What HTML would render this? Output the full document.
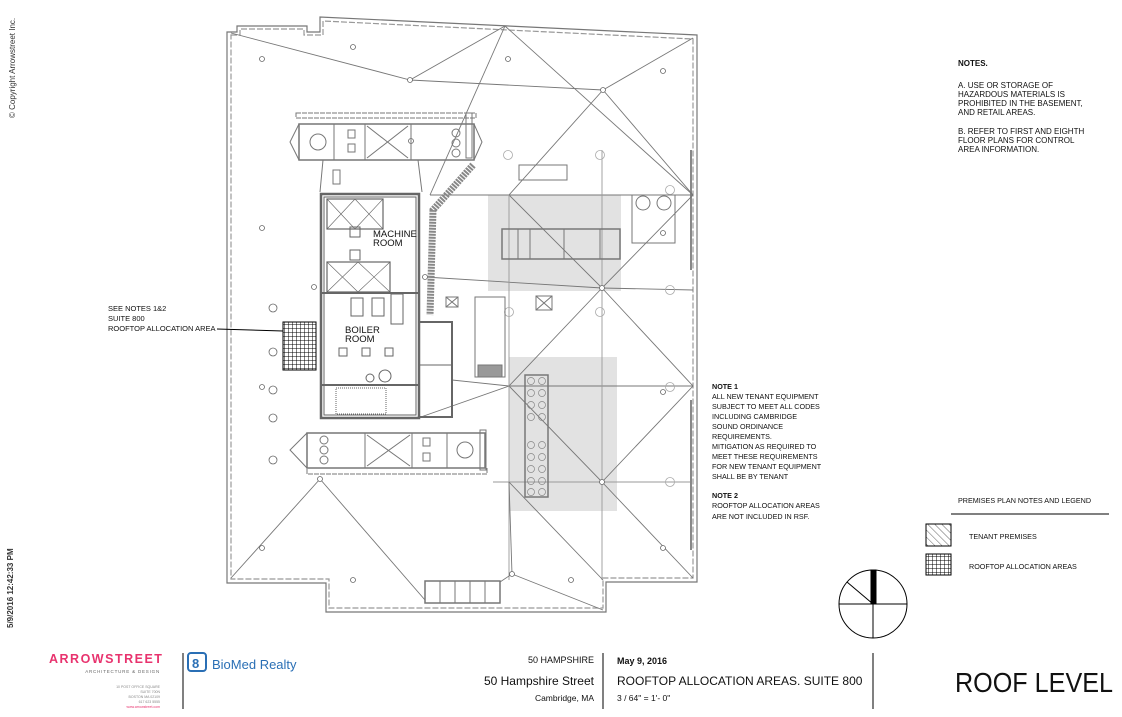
<!DOCTYPE html>
<html><head><meta charset="utf-8"><style>
html,body{margin:0;padding:0;background:#fff;}
svg{display:block}
text{font-family:"Liberation Sans",Arial,sans-serif;}
</style></head><body>
<svg width="1122" height="717" viewBox="0 0 1122 717" xmlns="http://www.w3.org/2000/svg">
<defs>
<pattern id="grid" width="4" height="4" patternUnits="userSpaceOnUse"><rect width="4" height="4" fill="#fff"/><path d="M0 0H4M0 0V4" stroke="#000" stroke-width="1"/></pattern>
<pattern id="hatch" width="5" height="5" patternUnits="userSpaceOnUse" patternTransform="rotate(-45)"><path d="M0 0V5" stroke="#666" stroke-width="1"/></pattern>
</defs>
<!-- side texts -->
<text transform="translate(15,118) rotate(-90)" font-size="8" fill="#333">© Copyright Arrowstreet Inc.</text>
<text transform="translate(13,628) rotate(-90)" font-size="8" font-weight="bold" fill="#333">5/9/2016 12:42:33 PM</text>

<!-- building outline -->
<g fill="none" stroke="#777" stroke-width="1.2">
<path d="M227,32 H237 V26 H307 V32 H320 V17 L697,35 V582 H606 V612 H326 V583 H227 Z"/>
<path d="M231,35 H240 V29 H304 V35 H323 V21 L693,39 V578 H603 V608 H329 V579 H231 Z" stroke="#999" stroke-dasharray="6,2"/>
</g>
<rect x="690" y="150" width="2" height="120" fill="#888"/>
<rect x="690" y="400" width="2" height="150" fill="#888"/>

<!-- gray bands -->
<rect x="488" y="195" width="133" height="96" fill="#e2e2e2"/>
<rect x="509" y="357" width="108" height="154" fill="#e2e2e2"/>

<!-- roof slope lines -->
<g stroke="#777" stroke-width="0.9" fill="none">
<path d="M231,33 L410,80 L505,26"/>
<path d="M410,80 L603,90"/>
<path d="M505,26 L693,195"/>
<path d="M505,26 L430,195"/>
<path d="M603,90 L693,38"/>
<path d="M603,90 L509,195 L602,288 L693,195 L603,90"/>
<path d="M430,195 H693"/>
<path d="M425,277 L602,288"/>
<path d="M602,288 L509,386 L602,482 L693,386 Z"/>
<path d="M452,380 L509,386 H693"/>
<path d="M509,195 V580" stroke="#999"/>
<path d="M602,150 V580" stroke="#999"/>
<path d="M493,482 H690" stroke="#999"/>
<path d="M602,482 L693,578"/>
<path d="M509,482 L603,580"/>
<path d="M509,482 L512,574 L603,610"/>
<path d="M512,574 L500,582"/>
<path d="M231,578 L320,479 L425,600"/>
<path d="M418,418 L509,386"/>
<path d="M602,288 L693,290"/>
</g>
<!-- drain symbols -->
<g fill="#fff" stroke="#666" stroke-width="0.8">
<circle cx="410" cy="80" r="2.5"/><circle cx="603" cy="90" r="2.5"/><circle cx="602" cy="288" r="2.5"/>
<circle cx="602" cy="482" r="2.5"/><circle cx="512" cy="574" r="2.5"/><circle cx="320" cy="479" r="2.5"/>
<circle cx="425" cy="277" r="2.5"/><circle cx="411" cy="141" r="2.5"/><circle cx="314" cy="287" r="2.5"/>
<circle cx="262" cy="59" r="2.5"/><circle cx="353" cy="47" r="2.5"/><circle cx="508" cy="59" r="2.5"/><circle cx="663" cy="71" r="2.5"/>
<circle cx="262" cy="228" r="2.5"/><circle cx="262" cy="387" r="2.5"/><circle cx="262" cy="548" r="2.5"/><circle cx="353" cy="580" r="2.5"/>
<circle cx="571" cy="580" r="2.5"/><circle cx="663" cy="548" r="2.5"/><circle cx="663" cy="233" r="2.5"/><circle cx="663" cy="392" r="2.5"/>
<circle cx="273" cy="308" r="4"/><circle cx="273" cy="352" r="4"/><circle cx="273" cy="390" r="4"/><circle cx="273" cy="418" r="4"/><circle cx="273" cy="460" r="4"/>
</g>
<g fill="none" stroke="#aaa" stroke-width="0.8">
<circle cx="508" cy="155" r="4.5"/><circle cx="600" cy="155" r="4.5"/><circle cx="670" cy="290" r="4.5"/><circle cx="600" cy="312" r="4.5"/>
<circle cx="509" cy="312" r="4.5"/><circle cx="670" cy="387" r="4.5"/><circle cx="670" cy="482" r="4.5"/><circle cx="670" cy="190" r="4.5"/>
</g>

<!-- top equipment -->
<g fill="none" stroke="#777" stroke-width="1">
<rect x="296" y="113" width="180" height="5" stroke-dasharray="5,1"/>
<rect x="466" y="113" width="6" height="45"/>
<rect x="299" y="124" width="175" height="36" stroke-width="1.5"/>
<path d="M299,124 L290,142 L299,160"/>
<path d="M474,124 L482,142 L474,160"/>
<line x1="334" y1="124" x2="334" y2="160"/><line x1="365" y1="124" x2="365" y2="160"/><line x1="411" y1="124" x2="411" y2="160"/>
<path d="M367,126 L408,158 M408,126 L367,158"/>
<circle cx="318" cy="142" r="8"/>
<circle cx="456" cy="133" r="4"/><circle cx="456" cy="143" r="4"/><circle cx="456" cy="153" r="4"/>
<rect x="348" y="130" width="7" height="8"/><rect x="348" y="144" width="7" height="8"/>
<path d="M323,160 L320,192 M418,160 L422,192"/>
<rect x="333" y="170" width="7" height="14"/>
</g>
<!-- stair diagonal -->
<path d="M473,165 L433,210 L430,315" fill="none" stroke="#888" stroke-width="7" stroke-dasharray="2,1"/>

<!-- core -->
<g fill="none" stroke="#666">
<rect x="321" y="194" width="98" height="224" stroke-width="2.5"/>
<rect x="324" y="197" width="92" height="218" stroke-width="1"/>
<line x1="322" y1="293" x2="418" y2="293" stroke-width="2"/>
<line x1="322" y1="385" x2="418" y2="385" stroke-width="2"/>
<rect x="327" y="199" width="56" height="30" stroke-width="1.2"/>
<path d="M327,199 L355,229 M355,199 L327,229 M355,199 L383,229 M383,199 L355,229" stroke-width="0.6"/>
<rect x="327" y="262" width="63" height="30" stroke-width="1.2"/>
<path d="M327,262 L358,292 M358,262 L327,292 M358,262 L390,292 M390,262 L358,292" stroke-width="0.6"/>
<rect x="350" y="227" width="10" height="10"/><rect x="350" y="250" width="10" height="10"/>
<rect x="351" y="298" width="12" height="18"/><rect x="372" y="298" width="12" height="18"/>
<rect x="339" y="348" width="8" height="8"/><rect x="362" y="348" width="8" height="8"/><rect x="385" y="348" width="8" height="8"/>
<circle cx="370" cy="378" r="4"/><circle cx="385" cy="376" r="6"/>
<rect x="391" y="294" width="12" height="30"/>
<rect x="419" y="322" width="33" height="95" stroke-width="2"/>
<line x1="419" y1="365" x2="452" y2="365"/>
<rect x="336" y="388" width="50" height="26" stroke-dasharray="1,1"/>
</g>
<text x="373" y="237" font-size="9.5" fill="#111">MACHINE</text>
<text x="373" y="246" font-size="9.5" fill="#111">ROOM</text>
<text x="345" y="333" font-size="9.5" fill="#111">BOILER</text>
<text x="345" y="342" font-size="9.5" fill="#111">ROOM</text>

<!-- bottom equipment -->
<g fill="none" stroke="#777" stroke-width="1">
<rect x="307" y="433" width="178" height="35" stroke-width="1.5"/>
<rect x="307" y="468" width="180" height="6" stroke-dasharray="5,1"/>
<rect x="480" y="430" width="6" height="40"/>
<path d="M307,433 L290,450 L307,468"/>
<line x1="365" y1="433" x2="365" y2="468"/><line x1="412" y1="433" x2="412" y2="468"/><line x1="447" y1="433" x2="447" y2="468"/>
<path d="M367,435 L410,466 M410,435 L367,466"/>
<circle cx="324" cy="440" r="4"/><circle cx="324" cy="450" r="4"/><circle cx="324" cy="460" r="4"/>
<circle cx="465" cy="450" r="8"/>
<rect x="423" y="438" width="7" height="8"/><rect x="423" y="453" width="7" height="8"/>
</g>

<!-- right equipment -->
<g fill="none" stroke="#777" stroke-width="1">
<rect x="502" y="229" width="118" height="30" stroke-width="1.5"/>
<line x1="518" y1="229" x2="518" y2="259"/><line x1="530" y1="229" x2="530" y2="259"/><line x1="564" y1="229" x2="564" y2="259"/><line x1="600" y1="229" x2="600" y2="259"/>
<rect x="519" y="165" width="48" height="15"/>
<rect x="632" y="195" width="43" height="48"/>
<circle cx="643" cy="203" r="7"/><circle cx="664" cy="203" r="7"/>
<rect x="525" y="375" width="23" height="122" stroke-width="1.5"/>
<rect x="475" y="297" width="30" height="80"/>
<rect x="478" y="365" width="24" height="12" fill="#999"/>
<rect x="446" y="297" width="12" height="10"/><path d="M446,297 L458,307 M458,297 L446,307"/>
<rect x="536" y="296" width="16" height="14"/><path d="M536,296 L552,310 M552,296 L536,310"/>
<rect x="425" y="581" width="75" height="22" stroke-width="1.5"/>
<line x1="440" y1="581" x2="440" y2="603"/><line x1="455" y1="581" x2="455" y2="603"/><line x1="470" y1="581" x2="470" y2="603"/><line x1="485" y1="581" x2="485" y2="603"/>
</g>
<g fill="none" stroke="#888" stroke-width="0.7">
<circle cx="531" cy="381" r="3.5"/><circle cx="542" cy="381" r="3.5"/><circle cx="531" cy="393" r="3.5"/><circle cx="542" cy="393" r="3.5"/>
<circle cx="531" cy="405" r="3.5"/><circle cx="542" cy="405" r="3.5"/><circle cx="531" cy="417" r="3.5"/><circle cx="542" cy="417" r="3.5"/>
<circle cx="531" cy="445" r="3.5"/><circle cx="542" cy="445" r="3.5"/><circle cx="531" cy="457" r="3.5"/><circle cx="542" cy="457" r="3.5"/>
<circle cx="531" cy="469" r="3.5"/><circle cx="542" cy="469" r="3.5"/><circle cx="531" cy="481" r="3.5"/><circle cx="542" cy="481" r="3.5"/>
<circle cx="531" cy="492" r="3.5"/><circle cx="542" cy="492" r="3.5"/>
</g>

<!-- rooftop allocation area -->
<rect x="283" y="322" width="33" height="48" fill="url(#grid)" stroke="#000" stroke-width="1"/>
<line x1="217" y1="329" x2="283" y2="331" stroke="#000" stroke-width="1"/>
<text x="108" y="311" font-size="7.5" fill="#111">SEE NOTES  1&amp;2</text>
<text x="108" y="321" font-size="7.5" fill="#111">SUITE 800</text>
<text x="108" y="331" font-size="7.5" fill="#111">ROOFTOP ALLOCATION AREA</text>

<!-- notes -->
<g font-size="8" fill="#111">
<text x="958" y="66" font-weight="bold">NOTES.</text>
<text x="958" y="88">A. USE OR STORAGE OF</text>
<text x="958" y="97">HAZARDOUS MATERIALS IS</text>
<text x="958" y="106">PROHIBITED IN THE BASEMENT,</text>
<text x="958" y="115">AND RETAIL AREAS.</text>
<text x="958" y="134">B. REFER TO FIRST AND EIGHTH</text>
<text x="958" y="143">FLOOR PLANS FOR CONTROL</text>
<text x="958" y="152">AREA INFORMATION.</text>
</g>
<g font-size="7.2" fill="#111">
<text x="712" y="389" font-weight="bold">NOTE 1</text>
<text x="712" y="399">ALL NEW TENANT EQUIPMENT</text>
<text x="712" y="409">SUBJECT TO MEET ALL CODES</text>
<text x="712" y="419">INCLUDING CAMBRIDGE</text>
<text x="712" y="429">SOUND  ORDINANCE</text>
<text x="712" y="439">REQUIREMENTS.</text>
<text x="712" y="449">MITIGATION AS REQUIRED TO</text>
<text x="712" y="459">MEET THESE REQUIREMENTS</text>
<text x="712" y="469">FOR NEW TENANT EQUIPMENT</text>
<text x="712" y="479">SHALL BE BY TENANT</text>
<text x="712" y="498" font-weight="bold">NOTE 2</text>
<text x="712" y="508">ROOFTOP ALLOCATION AREAS</text>
<text x="712" y="519">ARE NOT INCLUDED IN RSF.</text>
<text x="958" y="503">PREMISES PLAN NOTES AND LEGEND</text>
<text x="969" y="539">TENANT PREMISES</text>
<text x="969" y="569">ROOFTOP ALLOCATION AREAS</text>
</g>
<line x1="951" y1="514" x2="1109" y2="514" stroke="#000" stroke-width="1"/>
<rect x="926" y="524" width="25" height="22" fill="url(#hatch)" stroke="#000"/>
<rect x="926" y="554" width="25" height="21" fill="url(#grid)" stroke="#000"/>

<!-- north arrow -->
<g stroke="#000" fill="none" stroke-width="1">
<circle cx="873" cy="604" r="34"/>
<line x1="839" y1="604" x2="907" y2="604"/>
<line x1="873" y1="604" x2="873" y2="638"/>
<line x1="873" y1="604" x2="847" y2="582"/>
<rect x="871" y="570" width="5" height="34" fill="#000"/>
</g>

<!-- title block -->
<g stroke="#000" stroke-width="1">
<line x1="183" y1="653" x2="183" y2="709"/>
<line x1="603" y1="653" x2="603" y2="709"/>
<line x1="873" y1="653" x2="873" y2="709"/>
</g>
<text x="49" y="663" font-size="12.5" font-weight="bold" fill="#e8336e" letter-spacing="1.5">ARROWSTREET</text>
<text x="160" y="673" font-size="4.5" fill="#666" text-anchor="end" letter-spacing="0.8">ARCHITECTURE &amp; DESIGN</text>
<g font-size="3.5" fill="#888" text-anchor="end">
<text x="160" y="688">10 POST OFFICE SQUARE</text><text x="160" y="693">SUITE 700N</text><text x="160" y="698">BOSTON MA 02109</text><text x="160" y="703">617 623 5555</text>
<text x="160" y="708" fill="#e8336e">www.arrowstreet.com</text>
</g>
<rect x="188" y="653" width="18" height="18" rx="3" fill="none" stroke="#2a6fb5" stroke-width="2"/>
<text x="192" y="668" font-size="13" font-weight="bold" fill="#2a6fb5">8</text>
<text x="212" y="669" font-size="13" fill="#2a6fb5">BioMed Realty</text>
<g fill="#111">
<text x="594" y="663" font-size="9" text-anchor="end">50 HAMPSHIRE</text>
<text x="594" y="685" font-size="12" text-anchor="end">50 Hampshire Street</text>
<text x="594" y="701" font-size="8.5" text-anchor="end">Cambridge, MA</text>
<text x="617" y="664" font-size="9" font-weight="bold">May 9, 2016</text>
<text x="617" y="685" font-size="12">ROOFTOP ALLOCATION AREAS. SUITE 800</text>
<text x="617" y="701" font-size="8.5">3 / 64" = 1'- 0"</text>
<text x="955" y="692" font-size="28" textLength="158" lengthAdjust="spacingAndGlyphs">ROOF LEVEL</text>
</g>
</svg>
</body></html>
